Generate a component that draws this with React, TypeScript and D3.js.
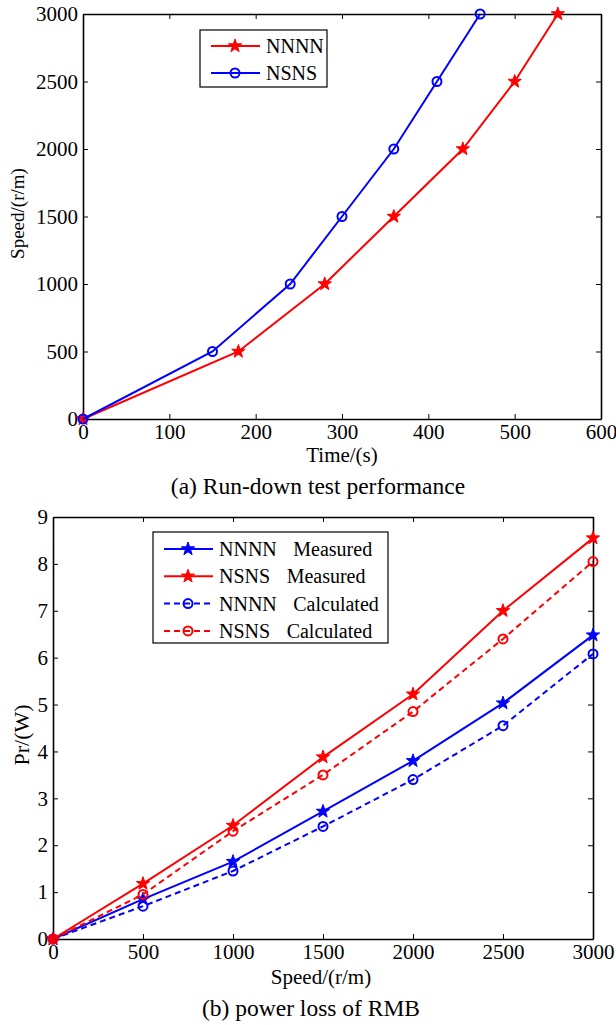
import React, { useRef, useEffect } from "react";
import * as d3 from "d3";

const WIDTH = 616;
const HEIGHT = 1025;
const FONT = '"Liberation Serif", "Times New Roman", serif';

// (a) run-down test
const timeNNNN = [0, 180, 280, 360, 440, 500, 550];
const timeNSNS = [0, 150, 240, 300, 360, 410, 460];
const speedLevels = [0, 500, 1000, 1500, 2000, 2500, 3000];

// (b) power loss
const speeds = [0, 500, 1000, 1500, 2000, 2500, 3000];
const nnnnMeasured = [0, 0.85, 1.65, 2.72, 3.8, 5.03, 6.48];
const nsnsMeasured = [0, 1.18, 2.42, 3.88, 5.22, 7.0, 8.55];
const nnnnCalculated = [0, 0.7, 1.45, 2.4, 3.4, 4.55, 6.08];
const nsnsCalculated = [0, 0.95, 2.3, 3.5, 4.85, 6.4, 8.05];

const timeTicks = [0, 100, 200, 300, 400, 500, 600];
const speedTicks = [0, 500, 1000, 1500, 2000, 2500, 3000];
const powerTicks = [0, 1, 2, 3, 4, 5, 6, 7, 8, 9];

const RED = "#ff0000";
const BLUE = "#0000ff";

function starPath(r) {
  const pts = [];
  for (let i = 0; i < 10; i++) {
    const rr = i % 2 === 0 ? r : r * 0.4;
    const a = -Math.PI / 2 + (i * Math.PI) / 5;
    pts.push([rr * Math.cos(a), rr * Math.sin(a)]);
  }
  return "M" + pts.map((p) => p.join(",")).join("L") + "Z";
}

const drawMarker = (g, type, color, x, y) => {
  if (type === "star") {
    g.append("path")
      .attr("d", starPath(7))
      .attr("transform", `translate(${x},${y})`)
      .attr("fill", color)
      .attr("stroke", color)
      .attr("stroke-width", 1);
  } else {
    g.append("circle")
      .attr("cx", x)
      .attr("cy", y)
      .attr("r", 4.5)
      .attr("fill", "none")
      .attr("stroke", color)
      .attr("stroke-width", 2);
  }
};

const addText = (svg, txt, size, attrs) => {
  const t = svg
    .append("text")
    .style("font-family", FONT)
    .style("font-size", size + "px")
    .attr("fill", "black")
    .text(txt);
  Object.entries(attrs).forEach(([k, v]) => t.attr(k, v));
  return t;
};

const drawFrame = (svg, box, xScale, yScale, xTicks, yTicks) => {
  const g = svg.append("g");
  const fmt = d3.format("d");
  const styleAxis = (sel) => {
    sel.attr("font-family", null).attr("font-size", null);
    sel.selectAll("path").attr("stroke", "black").attr("stroke-width", 1.6);
    sel.selectAll("line").attr("stroke", "black").attr("stroke-width", 1);
    sel
      .selectAll("text")
      .style("font-family", FONT)
      .style("font-size", "21px")
      .attr("fill", "black");
  };
  g.append("g")
    .attr("transform", `translate(0,${box.bottom})`)
    .call(d3.axisBottom(xScale).tickValues(xTicks).tickFormat(fmt).tickSizeInner(-5).tickSizeOuter(0).tickPadding(5))
    .call(styleAxis);
  g.append("g")
    .attr("transform", `translate(0,${box.top})`)
    .call(d3.axisTop(xScale).tickValues(xTicks).tickFormat(() => "").tickSizeInner(-5).tickSizeOuter(0))
    .call(styleAxis);
  g.append("g")
    .attr("transform", `translate(${box.left},0)`)
    .call(d3.axisLeft(yScale).tickValues(yTicks).tickFormat(fmt).tickSizeInner(-5).tickSizeOuter(0).tickPadding(5))
    .call(styleAxis);
  g.append("g")
    .attr("transform", `translate(${box.right},0)`)
    .call(d3.axisRight(yScale).tickValues(yTicks).tickFormat(() => "").tickSizeInner(-5).tickSizeOuter(0))
    .call(styleAxis);
  g.selectAll(".domain").attr("fill", "none");
};

const drawSeries = (svg, xs, ys, xScale, yScale, color, marker, dashed) => {
  const pts = xs.map((x, i) => [xScale(x), yScale(ys[i])]);
  const g = svg.append("g");
  g.append("path")
    .attr("d", d3.line()(pts))
    .attr("fill", "none")
    .attr("stroke", color)
    .attr("stroke-width", 2)
    .attr("stroke-dasharray", dashed ? "6,4" : null);
  pts.forEach(([x, y]) => drawMarker(g, marker, color, x, y));
};

const drawLegend = (svg, box, items, rowGap) => {
  const g = svg.append("g");
  g.append("rect")
    .attr("x", box.x)
    .attr("y", box.y)
    .attr("width", box.w)
    .attr("height", box.h)
    .attr("fill", "white")
    .attr("stroke", "black")
    .attr("stroke-width", 1.2);
  items.forEach((it, i) => {
    const y = box.y + box.pad + i * rowGap;
    g.append("line")
      .attr("x1", box.x + 11)
      .attr("x2", box.x + 60)
      .attr("y1", y)
      .attr("y2", y)
      .attr("stroke", it.color)
      .attr("stroke-width", 2)
      .attr("stroke-dasharray", it.dashed ? "6,4" : null);
    drawMarker(g, it.marker, it.color, box.x + 35, y);
    const t = g
      .append("text")
      .attr("x", box.x + 66)
      .attr("y", y + 7)
      .style("font-family", FONT)
      .style("font-size", "20px")
      .attr("fill", "black");
    t.append("tspan").text(it.name);
    if (it.kind) t.append("tspan").attr("dx", 16.5).text(it.kind);
  });
};

function App() {
  const svgRef = useRef(null);

  useEffect(() => {
    const svg = d3.select(svgRef.current);
    svg.selectAll("*").remove();

    // ---- (a) ----
    const boxA = { left: 83, right: 601, top: 14, bottom: 419 };
    const xA = d3.scaleLinear().domain([0, 600]).range([boxA.left, boxA.right]);
    const yA = d3.scaleLinear().domain([0, 3000]).range([boxA.bottom, boxA.top]);
    drawFrame(svg, boxA, xA, yA, timeTicks, speedTicks);
    drawSeries(svg, timeNNNN, speedLevels, xA, yA, RED, "star", false);
    drawSeries(svg, timeNSNS, speedLevels, xA, yA, BLUE, "circle", false);
    drawLegend(
      svg,
      { x: 200, y: 30, w: 127, h: 57, pad: 16 },
      [
        { name: "NNNN", color: RED, marker: "star" },
        { name: "NSNS", color: BLUE, marker: "circle" },
      ],
      27
    );
    addText(svg, "Time/(s)", 21, {
      x: (boxA.left + boxA.right) / 2,
      y: 462,
      "text-anchor": "middle",
    });
    addText(svg, "Speed/(r/m)", 19, {
      transform: `translate(24,${(boxA.top + boxA.bottom) / 2 - 3}) rotate(-90)`,
      "text-anchor": "middle",
    });
    addText(svg, "(a) Run-down test performance", 23.5, {
      x: 318,
      y: 494,
      "text-anchor": "middle",
    });

    // ---- (b) ----
    const boxB = { left: 53, right: 593, top: 517, bottom: 939 };
    const xB = d3.scaleLinear().domain([0, 3000]).range([boxB.left, boxB.right]);
    const yB = d3.scaleLinear().domain([0, 9]).range([boxB.bottom, boxB.top]);
    drawFrame(svg, boxB, xB, yB, speedTicks, powerTicks);
    drawSeries(svg, speeds, nnnnMeasured, xB, yB, BLUE, "star", false);
    drawSeries(svg, speeds, nsnsMeasured, xB, yB, RED, "star", false);
    drawSeries(svg, speeds, nnnnCalculated, xB, yB, BLUE, "circle", true);
    drawSeries(svg, speeds, nsnsCalculated, xB, yB, RED, "circle", true);
    drawLegend(
      svg,
      { x: 153, y: 532, w: 235, h: 111, pad: 17 },
      [
        { name: "NNNN", kind: "Measured", color: BLUE, marker: "star" },
        { name: "NSNS", kind: "Measured", color: RED, marker: "star" },
        { name: "NNNN", kind: "Calculated", color: BLUE, marker: "circle", dashed: true },
        { name: "NSNS", kind: "Calculated", color: RED, marker: "circle", dashed: true },
      ],
      27.3
    );
    addText(svg, "Speed/(r/m)", 21, {
      x: 321,
      y: 984,
      "text-anchor": "middle",
    });
    addText(svg, "Pr/(W)", 22, {
      transform: `translate(29,735) rotate(-90)`,
      "text-anchor": "middle",
    });
    addText(svg, "(b) power loss of RMB", 23.5, {
      x: 311,
      y: 1016,
      "text-anchor": "middle",
    });
  }, []);

  return (
    <svg
      ref={svgRef}
      width={WIDTH}
      height={HEIGHT}
      style={{ position: "absolute", left: 0, top: 0, background: "white" }}
    />
  );
}

export default App;
